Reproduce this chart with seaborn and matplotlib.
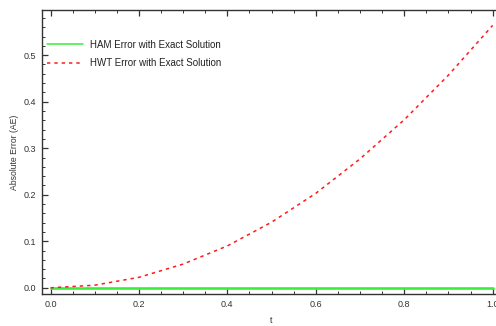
import matplotlib
matplotlib.use("Agg")
import matplotlib.pyplot as plt
import seaborn as sns
import pandas as pd
import numpy as np
from matplotlib.ticker import MultipleLocator

sns.set_style("white")
plt.rcParams['font.family'] = ['Liberation Sans', 'DejaVu Sans']

t = [0.0, 0.1, 0.2, 0.3, 0.4, 0.5, 0.6, 0.7, 0.8, 0.9, 1.0]
ham_error = [0.0, 0.0, 0.0, 0.0, 0.0, 0.0, 0.0, 0.0, 0.0, 0.0, 0.0]
hwt_error = [0.0, 0.0056, 0.0225, 0.051, 0.090, 0.141, 0.203, 0.277, 0.361, 0.457, 0.564]

df = pd.DataFrame({"t": t, "HAM": ham_error, "HWT": hwt_error})

fig = plt.figure(figsize=(4.96, 3.26), dpi=100)
ax = fig.add_axes([0.084, 0.0972, 0.927, 0.872])

sns.lineplot(data=df, x="t", y="HAM", ax=ax, color="#3aee3a", linewidth=1.9,
             label="HAM Error with Exact Solution")
sns.lineplot(data=df, x="t", y="HWT", ax=ax, color="#ff1a1a", linewidth=1.1,
             linestyle=(0, (2.2, 2.6)), label="HWT Error with Exact Solution")

ax.set_xlim(-0.02, 1.02)
ax.set_ylim(-0.014, 0.597)
ax.xaxis.set_major_locator(MultipleLocator(0.2))
ax.xaxis.set_minor_locator(MultipleLocator(0.05))
ax.yaxis.set_major_locator(MultipleLocator(0.1))
ax.yaxis.set_minor_locator(MultipleLocator(0.02))
ax.xaxis.set_major_formatter(matplotlib.ticker.FormatStrFormatter('%.1f'))
ax.yaxis.set_major_formatter(matplotlib.ticker.FormatStrFormatter('%.1f'))

ax.tick_params(which='both', direction='in', top=True, right=False, left=True, bottom=True,
               color='#333333', labelcolor='#333333', labelsize=6.5)
ax.tick_params(which='major', length=4, width=0.9, pad=4)
ax.tick_params(which='minor', length=2.3, width=0.7)
for s in ax.spines.values():
    s.set_color('#333333')
    s.set_linewidth(1.0)
ax.spines['right'].set_visible(False)

ax.set_xlabel("t", fontsize=6.5, color='#333333', labelpad=5)
ax.set_ylabel("Absolute Error (AE)", fontsize=6.2, color='#333333', labelpad=3)

leg = ax.legend(loc='upper left', bbox_to_anchor=(0.0, 0.913), frameon=False,
                fontsize=7, handlelength=3.8, handletextpad=0.7, labelspacing=0.9,
                borderaxespad=0.1)
for txt in leg.get_texts():
    txt.set_color('#222222')
for h in leg.get_lines():
    h.set_linewidth(1.1)

fig.savefig("out.png", dpi=100)
